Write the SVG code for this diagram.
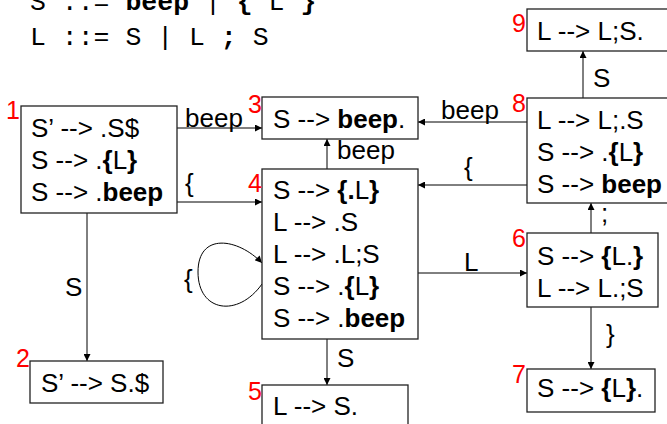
<svg xmlns="http://www.w3.org/2000/svg" width="667" height="424" viewBox="0 0 667 424">
<defs>
<style>
.t{font-family:"Liberation Sans",Arial,sans-serif;font-size:26px;fill:#000}
.b{font-weight:bold}
.n{font-family:"Liberation Sans",Arial,sans-serif;font-size:25px;fill:#ff0000}
.g{font-family:"Liberation Mono","Courier New",monospace;font-size:26.5px;fill:#000}
.box{fill:#fff;stroke:#222;stroke-width:1.3}
.c{fill:none;stroke:#000;stroke-width:1}
</style>
<marker id="ah" viewBox="0 0 10 10" refX="10" refY="5" markerWidth="9" markerHeight="7" markerUnits="userSpaceOnUse" orient="auto">
<path d="M0,0 L10,5 L0,10 z" fill="#000"/>
</marker>
</defs>
<rect width="667" height="424" fill="#fff"/>
<g id="grammar">
<text class="g" x="30" y="10">S ::= <tspan class="b">beep</tspan> | <tspan class="b">{</tspan> L <tspan class="b">}</tspan></text>
<text class="g" x="30" y="45">L ::= S | L <tspan class="b">;</tspan> S</text>
</g>
<g id="connectors">
<line class="c" x1="177" y1="128" x2="262" y2="128" marker-end="url(#ah)"/>
<text class="t" x="185" y="127">beep</text>
<line class="c" x1="177" y1="202" x2="262" y2="202" marker-end="url(#ah)"/>
<text class="t" x="185" y="192">{</text>
<line class="c" x1="87" y1="213" x2="87" y2="361" marker-end="url(#ah)"/>
<text class="t" x="65" y="296">S</text>
<line class="c" x1="327" y1="169" x2="327" y2="139" marker-end="url(#ah)"/>
<text class="t" x="337" y="159">beep</text>
<line class="c" x1="527" y1="122" x2="418" y2="122" marker-end="url(#ah)"/>
<text class="t" x="441" y="119">beep</text>
<line class="c" x1="527" y1="185" x2="418" y2="185" marker-end="url(#ah)"/>
<text class="t" x="464" y="176">{</text>
<line class="c" x1="418" y1="273" x2="527" y2="273" marker-end="url(#ah)"/>
<text class="t" x="464" y="271">L</text>
<line class="c" x1="327" y1="339" x2="327" y2="385" marker-end="url(#ah)"/>
<text class="t" x="337" y="367">S</text>
<path class="c" d="M262,284 C238,318 198,312 198,272 C198,232 238,238 262,263" marker-end="url(#ah)"/>
<text class="t" x="184" y="288">{</text>
<line class="c" x1="583" y1="98" x2="583" y2="51" marker-end="url(#ah)"/>
<text class="t" x="593" y="87">S</text>
<line class="c" x1="591" y1="233" x2="591" y2="203" marker-end="url(#ah)"/>
<text class="t" x="601" y="222">;</text>
<line class="c" x1="591" y1="307" x2="591" y2="369" marker-end="url(#ah)"/>
<text class="t" x="606" y="343">}</text>
</g>
<g id="node1">
<rect class="box" x="21" y="106" width="156" height="107"/>
<text class="n" x="6" y="119">1</text>
<text class="t" x="31" y="137">S’ --&gt; .S$</text>
<text class="t" x="31" y="169">S --&gt; .<tspan class="b">{</tspan>L<tspan class="b">}</tspan></text>
<text class="t" x="31" y="201">S --&gt; .<tspan class="b">beep</tspan></text>
</g>
<g id="node2">
<rect class="box" x="30" y="361" width="133" height="42"/>
<text class="n" x="16" y="367">2</text>
<text class="t" x="41" y="392">S’ --&gt; S.$</text>
</g>
<g id="node3">
<rect class="box" x="262" y="97" width="156" height="42"/>
<text class="n" x="248" y="113">3</text>
<text class="t" x="273" y="128">S --&gt; <tspan class="b">beep</tspan>.</text>
</g>
<g id="node4">
<rect class="box" x="262" y="169" width="156" height="170"/>
<text class="n" x="248" y="192">4</text>
<text class="t" x="273" y="199">S --&gt; <tspan class="b">{.</tspan>L<tspan class="b">}</tspan></text>
<text class="t" x="273" y="231">L --&gt; .S</text>
<text class="t" x="273" y="263">L --&gt; .L;S</text>
<text class="t" x="273" y="295">S --&gt; .<tspan class="b">{</tspan>L<tspan class="b">}</tspan></text>
<text class="t" x="273" y="327">S --&gt; .<tspan class="b">beep</tspan></text>
</g>
<g id="node5">
<rect class="box" x="262" y="385" width="146" height="60"/>
<text class="n" x="248" y="400">5</text>
<text class="t" x="273" y="415">L --&gt; S.</text>
</g>
<g id="node6">
<rect class="box" x="527" y="233" width="131" height="74"/>
<text class="n" x="512" y="247">6</text>
<text class="t" x="537" y="265">S --&gt; <tspan class="b">{</tspan>L.<tspan class="b">}</tspan></text>
<text class="t" x="537" y="297">L --&gt; L.;S</text>
</g>
<g id="node7">
<rect class="box" x="527" y="369" width="128" height="43"/>
<text class="n" x="512" y="383">7</text>
<text class="t" x="537" y="397">S --&gt; <tspan class="b">{</tspan>L<tspan class="b">}</tspan>.</text>
</g>
<g id="node8">
<rect class="box" x="527" y="98" width="160" height="105"/>
<text class="n" x="512" y="112">8</text>
<text class="t" x="537" y="129">L --&gt; L;.S</text>
<text class="t" x="537" y="161">S --&gt; .<tspan class="b">{</tspan>L<tspan class="b">}</tspan></text>
<text class="t" x="537" y="193">S --&gt; <tspan class="b">beep</tspan></text>
</g>
<g id="node9">
<rect class="box" x="527" y="9" width="160" height="42"/>
<text class="n" x="512" y="32">9</text>
<text class="t" x="537" y="40">L --&gt; L;S.</text>
</g>
</svg>
